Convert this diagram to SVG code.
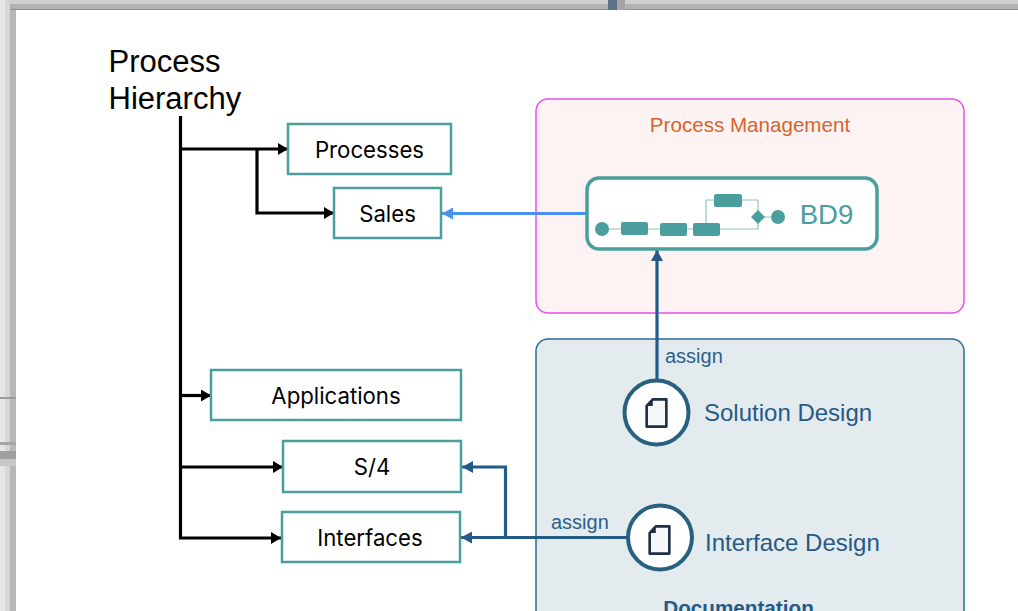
<svg xmlns="http://www.w3.org/2000/svg" width="1018" height="611" viewBox="0 0 1018 611">
<style>
text{font-family:"Liberation Sans",Arial,sans-serif}
.box{fill:#fff;stroke:#4a9e9e;stroke-width:2.5}
.lbl{font-size:22.200px;fill:#000;text-anchor:middle;font-family:Inter,"Liberation Sans",sans-serif}
.bk{fill:none;stroke:#000;stroke-width:3.200}
.bl{fill:none;stroke:#235a88;stroke-width:3.200}
.doc{font-size:24px;fill:#235a88}
.as{font-size:20px;fill:#2c5f88}
.t{fill:#4a9e9e}
.thin{fill:none;stroke:#8cc4c4;stroke-width:1.200}
.ring{fill:#fff;stroke:#27617f;stroke-width:4}
.ic{fill:#f4f6f8;stroke:#1f2f46;stroke-width:2.800;stroke-linejoin:round}
</style>
<defs>
<marker id="ak" markerUnits="userSpaceOnUse" markerWidth="10" markerHeight="12" refX="10" refY="6" orient="auto"><path d="M0 0L10 6L0 12z" fill="#000"/></marker>
<marker id="ab" markerUnits="userSpaceOnUse" markerWidth="11" markerHeight="12" refX="11" refY="6" orient="auto"><path d="M0 0L11 6L0 12z" fill="#235a88"/></marker>
<marker id="al" markerUnits="userSpaceOnUse" markerWidth="11" markerHeight="12" refX="11" refY="6" orient="auto"><path d="M0 0L11 6L0 12z" fill="#4a90f0"/></marker>
<symbol id="file" viewBox="0 0 24 32" overflow="visible"><path class="ic" d="M8 1.500H22.500V30.500H1.500V8.500Z"/><path d="M8 1.500V8.500H1.500Z" fill="#1f2f46"/></symbol>
</defs>
<rect width="1018" height="611" fill="#fff"/>
<g id="window-frame">
<rect x="0" y="0" width="1018" height="4" fill="#cfd0d0"/>
<rect x="0" y="4" width="1018" height="5" fill="#b2b2b2"/>
<rect x="0" y="9" width="1018" height="1" fill="#8f8f8f"/>
<rect x="608" y="0" width="9" height="10" fill="#5d7288"/>
<rect x="617" y="0" width="8" height="10" fill="#a4a4a4"/>
<rect x="0" y="0" width="5" height="611" fill="#e6e6e6"/>
<rect x="5" y="0" width="5" height="611" fill="#d6d6d6"/>
<rect x="10" y="10" width="6" height="601" fill="#b8b8b8"/>
<rect x="0" y="397" width="16" height="2" fill="#9c9c9c"/>
<rect x="0" y="442" width="16" height="3" fill="#a6a6a6"/>
<rect x="0" y="451" width="16" height="8" fill="#a0a0a0"/>
<rect x="0" y="459" width="16" height="7" fill="#c8c8c8"/>
</g>
<g id="title"><text x="108.500" y="71.500" font-size="31" fill="#000">Process</text><text x="108.500" y="109" font-size="31" fill="#000">Hierarchy</text></g>
<g id="process-management"><rect x="536" y="99" width="428" height="214" rx="12" fill="#fdf3f2" stroke="#e94fe8" stroke-width="1.500"/><text x="750" y="132" font-size="20.600" fill="#d9632c" text-anchor="middle">Process Management</text></g>
<g id="documentation"><path d="M536 611V351a12 12 0 0 1 12-12H952a12 12 0 0 1 12 12V611" fill="#e4ebef" stroke="#2f6a8f" stroke-width="1.500"/><text x="738.500" y="615" font-size="20.700" font-weight="700" fill="#235a88" text-anchor="middle">Documentation</text></g>
<g id="connectors">
<path class="bk" d="M180.500 116V538H281" marker-end="url(#ak)"/>
<path class="bk" d="M180 149H288" marker-end="url(#ak)"/>
<path class="bk" d="M257 149V213H334" marker-end="url(#ak)"/>
<path class="bk" d="M180 395.500H211" marker-end="url(#ak)"/>
<path class="bk" d="M180 467H283" marker-end="url(#ak)"/>
<path d="M587 213.500H442" fill="none" stroke="#4a90f0" stroke-width="3" marker-end="url(#al)"/>
<path class="bl" d="M657 380V250" marker-end="url(#ab)"/>
<path class="bl" d="M627 537.500H461" marker-end="url(#ab)"/>
<path class="bl" d="M505.500 537.500V467H462" marker-end="url(#ab)"/>
<text class="as" x="665" y="363">assign</text>
<text class="as" x="551" y="529">assign</text>
</g>
<g id="processes"><rect class="box" x="288" y="124" width="163" height="50"/><text class="lbl" x="369.500" y="157.500">Processes</text></g>
<g id="sales"><rect class="box" x="334" y="188" width="107" height="50"/><text class="lbl" x="387.500" y="221.500">Sales</text></g>
<g id="applications"><rect class="box" x="211" y="370" width="250" height="50"/><text class="lbl" x="336" y="404">Applications</text></g>
<g id="s4"><rect class="box" x="283" y="441" width="178" height="51"/><text class="lbl" x="372" y="475">S/4</text></g>
<g id="interfaces"><rect class="box" x="282" y="512" width="178" height="50"/><text class="lbl" x="370" y="546">Interfaces</text></g>
<g id="bd9">
<rect x="587" y="178" width="290" height="71" rx="12" fill="#fff" stroke="#4a9e9e" stroke-width="3.500"/>
<path class="thin" d="M602 229H758V216M706 223V200H758V211M758 217H778"/>
<circle class="t" cx="602" cy="229" r="7"/>
<rect class="t" x="621" y="222" width="27" height="13" rx="2"/>
<rect class="t" x="660" y="223" width="27" height="13" rx="2"/>
<rect class="t" x="693" y="223" width="27" height="13" rx="2"/>
<rect class="t" x="714" y="194" width="28" height="13" rx="2"/>
<path class="t" d="M758 210L765 217L758 224L751 217Z"/>
<circle class="t" cx="778" cy="217" r="7"/>
<text x="826.500" y="223.500" font-size="27.500" fill="#4a9e9e" text-anchor="middle">BD9</text>
</g>
<g id="solution-design"><circle class="ring" cx="656.500" cy="412.500" r="32"/><use href="#file" x="645" y="398" width="23" height="30"/><text class="doc" x="704" y="421">Solution Design</text></g>
<g id="interface-design"><circle class="ring" cx="660" cy="537.500" r="32"/><use href="#file" x="648" y="525" width="23" height="30"/><text class="doc" x="705" y="551">Interface Design</text></g>
</svg>
